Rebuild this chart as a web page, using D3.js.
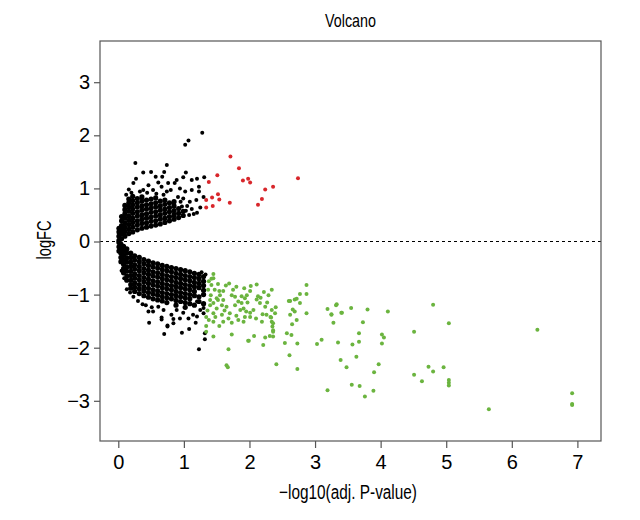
<!DOCTYPE html>
<html>
<head>
<meta charset="utf-8">
<script src="https://cdn.jsdelivr.net/npm/d3@7"></script>
<style>
  body { margin: 0; background: #fff; }
  svg text { font-family: "Liberation Sans", Arial, sans-serif; fill: #000; }
</style>
</head>
<body>
<svg id="chart" width="640" height="520"></svg>
<script>
// tick labels
var xTicks = [0, 1, 2, 3, 4, 5, 6, 7];
var yTicks = [-3, -2, -1, 0, 1, 2, 3];

// up-regulated, significant (red)
var upSig = [[1.71,1.60],[1.84,1.38],[1.51,1.25],[1.38,1.12],[1.90,1.15],[1.98,1.18],[2.01,1.11],
  [2.74,1.19],[2.36,1.03],[2.24,0.98],[1.52,0.89],[1.43,0.83],[1.54,0.79],[1.34,0.78],[1.70,0.73],
  [2.19,0.80],[2.13,0.69],[1.44,0.67],[1.34,0.64]];

// down-regulated, significant (green)
var downSig = [[1.45,-0.61],[1.45,-0.69],[1.42,-0.82],[1.64,-0.83],[1.69,-0.79],[1.80,-0.85],[1.92,-0.88],
  [2.02,-0.84],[2.11,-0.81],[2.34,-0.91],[2.29,-1.01],[2.87,-0.82],[2.87,-0.99],[2.77,-0.99],[2.69,-1.09],
  [2.62,-1.12],[2.77,-1.16],[2.87,-1.35],[2.62,-1.38],[2.69,-1.32],[2.72,-1.48],[2.65,-1.56],[2.57,-1.73],
  [2.54,-1.91],[2.73,-1.92],[2.61,-2.14],[2.41,-2.31],[2.73,-2.40],[3.19,-1.27],[3.33,-1.18],[3.25,-1.37],
  [3.41,-1.34],[3.55,-1.25],[3.80,-1.28],[4.11,-1.32],[3.73,-1.52],[3.28,-1.53],[3.67,-1.73],[4.02,-1.75],
  [4.05,-1.81],[4.02,-1.92],[3.67,-1.89],[3.57,-1.94],[3.35,-1.90],[3.10,-1.85],[3.03,-1.93],[3.63,-2.17],
  [3.39,-2.23],[3.48,-2.37],[3.97,-2.31],[3.90,-2.46],[3.56,-2.70],[3.68,-2.72],[3.89,-2.81],[3.76,-2.92],
  [3.19,-2.80],[1.68,-2.03],[1.65,-2.33],[1.67,-2.37],[1.98,-1.87],[2.07,-1.78],[2.21,-1.95],[2.24,-1.81],
  [2.31,-1.78],[1.73,-1.75],[1.45,-1.79],[1.34,-1.59],[1.34,-1.70],[2.36,-1.70],[2.35,-1.60],[2.34,-1.51],
  [2.32,-1.42],[2.39,-1.35],[2.40,-1.24],[2.34,-1.29],[2.26,-1.38],[2.20,-1.37],[2.19,-1.51],[2.24,-1.23],
  [2.16,-1.16],[2.13,-1.03],[2.17,-1.06],[2.11,-1.09],[2.06,-1.29],[2.01,-1.34],[2.01,-1.42],[1.93,-1.42],
  [1.91,-1.26],[1.88,-1.16],[1.93,-1.07],[1.88,-1.03],[1.83,-1.13],[1.78,-1.04],[1.73,-1.01],[1.86,-1.29],
  [1.83,-1.48],[1.91,-1.51],[1.73,-1.53],[1.70,-1.35],[1.65,-1.23],[1.58,-1.20],[1.60,-1.10],[1.55,-1.01],
  [1.52,-1.10],[1.58,-1.38],[1.60,-1.51],[1.54,-1.59],[1.45,-1.51],[1.45,-1.35],[1.50,-1.26],[1.45,-1.16],
  [1.40,-1.10],[1.41,-1.01],[1.37,-0.91],[1.47,-0.91],[1.54,-0.93],[1.50,-1.07],[1.36,-1.30],[1.34,-1.42],
  [1.96,-1.01],[2.01,-0.93],[1.75,-0.91],[1.60,-0.93],[2.64,-1.76],[1.99,-1.87],[2.36,-1.79],[2.36,-1.67],
  [2.36,-1.54],[2.33,-1.43],[2.60,-1.12],[2.72,-1.08],[2.66,-1.28],[3.32,-1.20],[3.25,-1.38],[3.40,-1.34],
  [4.80,-1.19],[5.04,-1.54],[4.51,-1.70],[6.39,-1.66],[4.51,-2.51],[4.63,-2.63],[4.73,-2.36],[4.80,-2.45],
  [4.96,-2.37],[5.04,-2.61],[5.04,-2.66],[5.04,-2.71],[5.65,-3.16],[6.92,-2.86],[6.92,-3.06],[6.92,-3.08],
  [1.38,-0.75],[1.40,-1.20],[1.48,-1.42],[1.38,-1.48],[1.52,-0.80],[1.42,-0.70],[1.62,-1.30],[1.68,-1.45],
  [1.78,-1.20],[1.80,-1.40],[1.97,-1.15],[1.95,-1.32],[2.10,-1.45],[2.27,-1.15],[2.22,-0.95]];

// not significant, scattered (black)
var nsScatter = [[1.28,2.05],[1.07,1.90],[1.02,1.82],[0.26,1.48],[0.74,1.44],[0.50,1.31],[0.38,1.30],
  [0.70,1.31],[1.03,1.30],[0.27,1.18],[0.57,1.22],[0.67,1.22],[0.89,1.16],[0.99,1.21],[1.12,1.16],
  [1.20,1.18],[1.31,1.21],[0.23,1.10],[0.46,1.06],[0.61,1.11],[0.76,1.10],[0.86,1.10],[0.66,1.03],
  [0.53,0.97],[0.80,0.97],[0.94,1.00],[1.02,0.94],[1.12,0.97],[1.23,1.03],[1.23,0.94],[1.30,0.84],
  [1.19,0.78],[1.09,0.75],[0.99,0.81],[0.91,0.84],[1.25,0.64],[1.20,0.54],[1.12,0.61],[1.05,0.67],
  [0.97,0.66],[0.84,0.72],[0.33,0.94],[0.20,0.92],[0.38,0.97],[0.74,0.94],[1.08,0.50],[1.15,0.52],
  [0.95,0.75],[0.16,0.98],[0.12,0.88],[0.58,0.90],[0.44,0.92],[0.69,0.88],[1.03,0.58],
  [0.13,-0.90],[0.09,-0.69],[0.23,-1.04],[0.37,-1.18],[0.47,-1.53],[0.53,-1.32],[0.66,-1.43],[0.69,-1.29],
  [0.75,-1.60],[0.84,-1.54],[0.94,-1.45],[0.97,-1.72],[1.08,-1.65],[1.07,-1.45],[0.70,-1.74],[1.23,-2.03],
  [1.25,-1.29],[1.20,-1.13],[0.81,-1.38],[0.89,-1.29],[1.14,-1.38],[0.99,-1.34],[0.61,-1.23],[0.51,-1.24],
  [0.46,-1.32],[1.30,-1.25],[1.20,-1.41],[1.32,-1.84],[1.32,-1.73],[1.18,-1.53],[1.30,-1.35],[0.84,-1.46],
  [0.75,-1.58],[0.66,-1.47],[0.30,-1.12],[0.42,-1.20],[0.18,-0.96],[0.05,-0.55],[1.27,-0.58],[1.33,-0.62]];

// dense core of the cloud, one column per entry: [x, [y values]]
var upCore = [
  [0.01, [0.02, 0.10, 0.18, 0.25]],
  [0.05, [0.05, 0.14, 0.22, 0.30, 0.39, 0.47]],
  [0.10, [0.10, 0.19, 0.27, 0.35, 0.44, 0.52, 0.60, 0.68]],
  [0.16, [0.15, 0.23, 0.32, 0.40, 0.48, 0.57, 0.65, 0.73, 0.80]],
  [0.22, [0.18, 0.27, 0.36, 0.44, 0.53, 0.61, 0.69, 0.77, 0.85]],
  [0.29, [0.22, 0.31, 0.39, 0.48, 0.56, 0.65, 0.73, 0.81]],
  [0.36, [0.25, 0.34, 0.42, 0.50, 0.59, 0.67, 0.76, 0.84]],
  [0.43, [0.27, 0.35, 0.44, 0.52, 0.61, 0.69, 0.78]],
  [0.50, [0.29, 0.38, 0.46, 0.55, 0.63, 0.71, 0.80]],
  [0.57, [0.31, 0.39, 0.48, 0.56, 0.65, 0.73, 0.82]],
  [0.64, [0.33, 0.42, 0.50, 0.59, 0.67, 0.76]],
  [0.71, [0.36, 0.44, 0.53, 0.61, 0.70, 0.78]],
  [0.78, [0.39, 0.47, 0.56, 0.64, 0.73]],
  [0.85, [0.42, 0.50, 0.58, 0.67, 0.75]],
  [0.92, [0.45, 0.53, 0.62]],
  [0.99, [0.49, 0.57]]
];

var downCore = [
  [0.01, [-0.02, -0.10, -0.18]],
  [0.04, [-0.05, -0.13, -0.22, -0.30, -0.38]],
  [0.08, [-0.09, -0.17, -0.26, -0.34, -0.43, -0.51, -0.59]],
  [0.13, [-0.14, -0.22, -0.31, -0.39, -0.48, -0.56, -0.65, -0.73]],
  [0.19, [-0.22, -0.30, -0.39, -0.47, -0.56, -0.64, -0.73, -0.81, -0.88]],
  [0.25, [-0.27, -0.35, -0.44, -0.52, -0.61, -0.69, -0.78, -0.86, -0.94]],
  [0.32, [-0.30, -0.38, -0.47, -0.55, -0.64, -0.72, -0.81, -0.89, -0.98]],
  [0.39, [-0.34, -0.42, -0.51, -0.59, -0.68, -0.76, -0.85, -0.93, -1.02]],
  [0.46, [-0.37, -0.45, -0.54, -0.62, -0.71, -0.79, -0.88, -0.96, -1.05]],
  [0.53, [-0.40, -0.48, -0.57, -0.65, -0.74, -0.82, -0.91, -0.99, -1.08]],
  [0.60, [-0.42, -0.50, -0.59, -0.67, -0.76, -0.84, -0.93, -1.01, -1.10]],
  [0.67, [-0.45, -0.53, -0.62, -0.70, -0.79, -0.87, -0.96, -1.04, -1.12]],
  [0.74, [-0.47, -0.55, -0.64, -0.72, -0.81, -0.89, -0.98, -1.06, -1.15]],
  [0.81, [-0.49, -0.57, -0.66, -0.74, -0.83, -0.91, -1.00, -1.08]],
  [0.88, [-0.51, -0.60, -0.68, -0.77, -0.85, -0.94, -1.02, -1.11, -1.20]],
  [0.95, [-0.53, -0.62, -0.70, -0.79, -0.87, -0.96, -1.04, -1.13]],
  [1.02, [-0.55, -0.64, -0.72, -0.81, -0.89, -0.98, -1.06, -1.15, -1.24]],
  [1.09, [-0.57, -0.66, -0.74, -0.83, -0.91, -1.00, -1.08, -1.17]],
  [1.16, [-0.60, -0.68, -0.77, -0.85, -0.94, -1.02, -1.20]],
  [1.23, [-0.62, -0.70, -0.79, -0.87, -1.04, -1.13]],
  [1.30, [-0.66, -0.75, -0.83, -0.92, -1.00, -1.17]]
];

var svg = d3.select("#chart");

// plot region (R style box)
var plotLeft = 100, plotRight = 601, plotTop = 41, plotBottom = 441;

var x = d3.scaleLinear().domain([-0.279, 7.36]).range([plotLeft, plotRight]);
var y = d3.scaleLinear().domain([-3.757, 3.776]).range([plotBottom, plotTop]);

var fmt = function (d) { return d < 0 ? "\u2212" + Math.abs(d) : String(d); };

// flatten the core columns into points
function flatten(cols) {
    var pts = [];
    cols.forEach(function (c) {
        c[1].forEach(function (v) { pts.push([c[0], v]); });
    });
    return pts;
}

// draws one group of dots
function dots(data, r, fill) {
    svg.append("g").selectAll("circle")
        .data(data)
        .enter().append("circle")
        .attr("cx", function (d) { return x(d[0]); })
        .attr("cy", function (d) { return y(d[1]); })
        .attr("r", r)
        .attr("fill", fill);
}

dots(flatten(upCore).concat(flatten(downCore)), 2.6, "#000");
dots(nsScatter, 2, "#000");
dots(upSig, 2, "#d8262b");
dots(downSig, 2, "#6bb43f");

// dashed zero line
svg.append("line")
    .attr("x1", plotLeft).attr("x2", plotRight)
    .attr("y1", y(0)).attr("y2", y(0))
    .attr("stroke", "#000")
    .attr("stroke-width", 1)
    .attr("stroke-dasharray", "3,3");

// box
svg.append("rect")
    .attr("x", plotLeft).attr("y", plotTop)
    .attr("width", plotRight - plotLeft).attr("height", plotBottom - plotTop)
    .attr("fill", "none")
    .attr("stroke", "#555")
    .attr("stroke-width", 1.2);

// axes
var xAxis = svg.append("g")
    .attr("transform", "translate(0," + plotBottom + ")")
    .call(d3.axisBottom(x).tickValues(xTicks).tickSize(7).tickPadding(7).tickFormat(fmt));
var yAxis = svg.append("g")
    .attr("transform", "translate(" + plotLeft + ",0)")
    .call(d3.axisLeft(y).tickValues(yTicks).tickSize(6).tickPadding(4).tickFormat(fmt));

[xAxis, yAxis].forEach(function (a) {
    a.select(".domain").remove();
    a.selectAll(".tick line").attr("stroke", "#555").attr("stroke-width", 1.2);
    a.selectAll(".tick text").style("font-size", "20px").attr("fill", "#000");
});

// titles, squeezed to the condensed widths of the original
svg.append("text")
    .attr("x", (plotLeft + plotRight) / 2).attr("y", 27)
    .attr("text-anchor", "middle")
    .attr("textLength", 51).attr("lengthAdjust", "spacingAndGlyphs")
    .style("font-size", "19px")
    .text("Volcano");

svg.append("text")
    .attr("x", 348).attr("y", 499)
    .attr("text-anchor", "middle")
    .attr("textLength", 138).attr("lengthAdjust", "spacingAndGlyphs")
    .style("font-size", "20px")
    .text("\u2212log10(adj. P-value)");

svg.append("text")
    .attr("transform", "translate(51,240) rotate(-90)")
    .attr("text-anchor", "middle")
    .attr("textLength", 39).attr("lengthAdjust", "spacingAndGlyphs")
    .style("font-size", "20px")
    .text("logFC");
</script>
</body>
</html>
